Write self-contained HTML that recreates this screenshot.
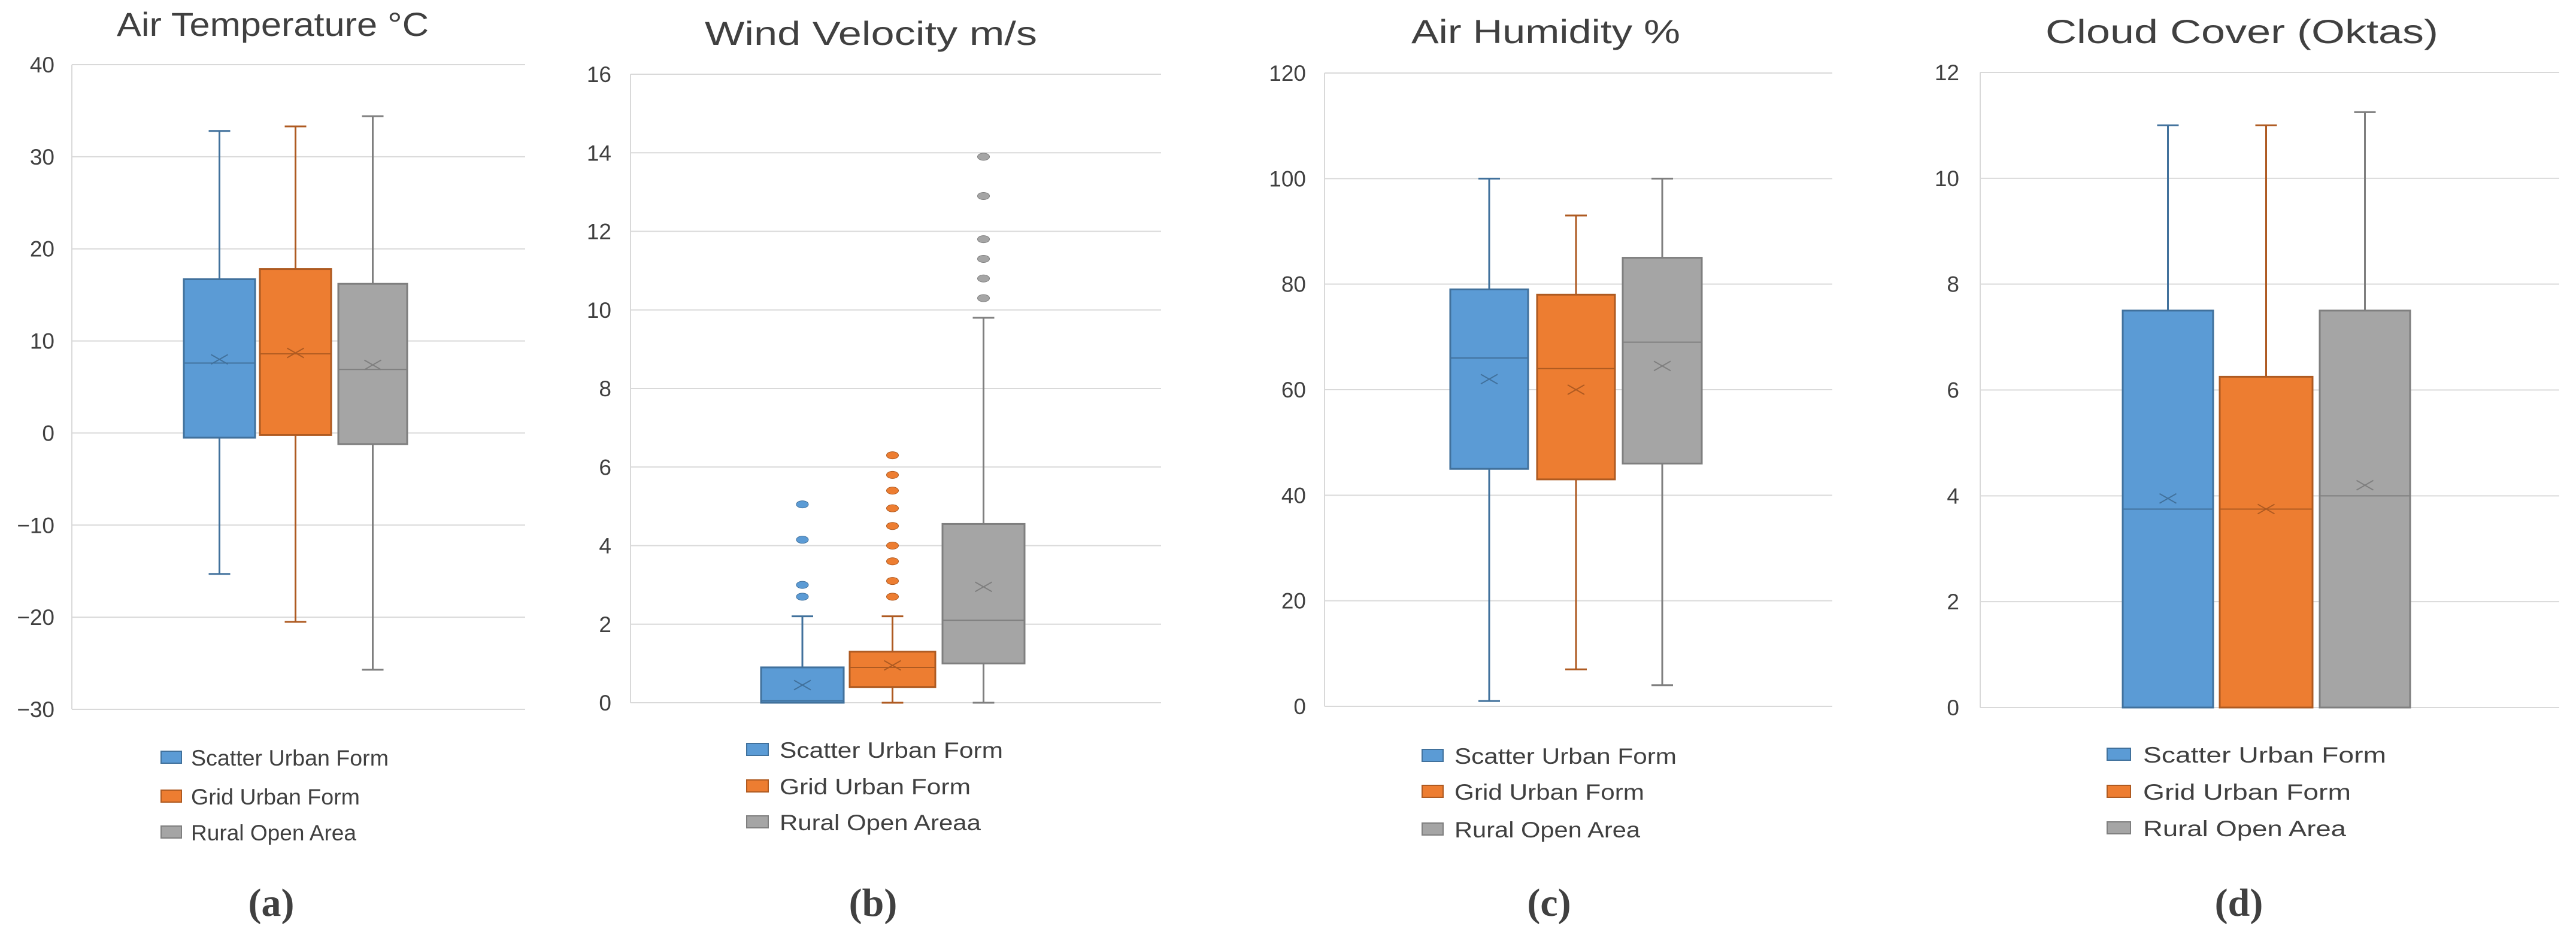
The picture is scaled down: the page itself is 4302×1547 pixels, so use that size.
<!DOCTYPE html>
<html><head><meta charset="utf-8"><style>
html,body{margin:0;padding:0;background:#fff;}
svg{display:block;}
text{font-family:"Liberation Sans",sans-serif;fill:#404040;}
</style></head><body>
<svg id="chart" width="4302" height="1547" viewBox="0 0 4302 1547" xmlns="http://www.w3.org/2000/svg"></svg>
<script>
const seriesNames=["Scatter Urban Form","Grid Urban Form","Rural Open Area"];
const seriesNamesB=["Scatter Urban Form","Grid Urban Form","Rural Open Areaa"];
// Air temperature
const tempMin=[-15.3,-20.5,-25.7];
const tempQ1=[-0.5,-0.2,-1.2];
const tempMed=[7.6,8.6,6.9];
const tempQ3=[16.7,17.8,16.2];
const tempMax=[32.8,33.3,34.4];
const tempMean=[8.0,8.7,7.4];
const tempTicks=["40","30","20","10","0","\u221210","\u221220","\u221230"];
// Wind velocity
const windMin=[0,0,0];
const windQ1=[0,0.4,1.0];
const windMed=[0.05,0.9,2.1];
const windQ3=[0.9,1.3,4.55];
const windMax=[2.2,2.2,9.8];
const windMean=[0.45,0.95,2.95];
const windOutBlue=[2.7,3.0,4.15,5.05];
const windOutOrange=[2.7,3.1,3.6,4.0,4.5,4.95,5.4,5.8,6.3];
const windOutGray=[10.3,10.8,11.3,11.8,12.9,13.9];
const windTicks=["16","14","12","10","8","6","4","2","0"];
// Humidity
const humMin=[1,7,4];
const humQ1=[45,43,46];
const humMed=[66,64,69];
const humQ3=[79,78,85];
const humMax=[100,93,100];
const humMean=[62,60,64.5];
const humTicks=["120","100","80","60","40","20","0"];
// Cloud cover
const cloudMin=[0,0,0];
const cloudQ1=[0,0,0];
const cloudMed=[3.75,3.75,4.0];
const cloudQ3=[7.5,6.25,7.5];
const cloudMax=[11,11,11.25];
const cloudMean=[3.95,3.75,4.2];
const cloudTicks=["12","10","8","6","4","2","0"];

const fills=["#5B9BD5","#ED7D31","#A5A5A5"];
const strokes=["#41719C","#AE5A21","#7F7F7F"];
const NS="http://www.w3.org/2000/svg";
const svg=document.getElementById("chart");
function mk(tag,attrs,parent){const e=document.createElementNS(NS,tag);for(const k in attrs)e.setAttribute(k,attrs[k]);(parent||svg).appendChild(e);return e;}

const panels=[
 {key:"air-temperature",title:"Air Temperature \u00B0C",tx:195,tw:521,ty:60,x0:120,x1:877,yT:108,yB:1185,vmin:-30,vmax:40,ticks:tempTicks,tickR:91,
  lefts:[307,434,565],widths:[119,119,115],mn:tempMin,q1:tempQ1,md:tempMed,q3:tempQ3,mx:tempMax,me:tempMean,outs:[[],[],[]],
  names:seriesNames,sx:269,sw:34,lx:319,rows:[1265,1330,1390],lw:[330,282,276],lab:"(a)",labX:453},
 {key:"wind-velocity",title:"Wind Velocity m/s",tx:1177,tw:555,ty:75,x0:1053,x1:1939,yT:124,yB:1174,vmin:0,vmax:16,ticks:windTicks,tickR:1021,
  lefts:[1271,1419,1574],widths:[138,143,137],mn:windMin,q1:windQ1,md:windMed,q3:windQ3,mx:windMax,me:windMean,outs:[windOutBlue,windOutOrange,windOutGray],
  names:seriesNamesB,sx:1247,sw:36,lx:1302,rows:[1252,1313,1373],lw:[373,319,336],lab:"(b)",labX:1458},
 {key:"air-humidity",title:"Air Humidity %",tx:2357,tw:449,ty:72,x0:2212,x1:3060,yT:122,yB:1180,vmin:0,vmax:120,ticks:humTicks,tickR:2181,
  lefts:[2422,2567,2710],widths:[130,130,132],mn:humMin,q1:humQ1,md:humMed,q3:humQ3,mx:humMax,me:humMean,outs:[[],[],[]],
  names:seriesNames,sx:2375,sw:35,lx:2429,rows:[1262,1322,1385],lw:[371,317,310],lab:"(c)",labX:2587},
 {key:"cloud-cover",title:"Cloud Cover (Oktas)",tx:3416,tw:656,ty:72,x0:3307,x1:4274,yT:121,yB:1182,vmin:0,vmax:12,ticks:cloudTicks,tickR:3272,
  lefts:[3545,3707,3874],widths:[151,155,151],mn:cloudMin,q1:cloudQ1,md:cloudMed,q3:cloudQ3,mx:cloudMax,me:cloudMean,outs:[[],[],[]],
  names:seriesNames,sx:3519,sw:39,lx:3579,rows:[1260,1322,1383],lw:[406,347,339],lab:"(d)",labX:3739}
];

panels.forEach(p=>{
 const g=mk("g",{});
 
 
 const y=v=>p.yB-(v-p.vmin)/(p.vmax-p.vmin)*(p.yB-p.yT);
 const t=mk("text",{x:p.tx,y:p.ty,"font-size":56,textLength:p.tw,lengthAdjust:"spacingAndGlyphs",fill:"#262626"},g);
 t.textContent=p.title;
 
 
 const n=p.ticks.length;
 p.ticks.forEach((lbl,i)=>{
  const yy=p.yT+i*(p.yB-p.yT)/(n-1);
  const gl=mk("line",{x1:p.x0,x2:p.x1,y1:yy,y2:yy,stroke:"#d9d9d9","stroke-width":2},g);
  
  
  const tl=mk("text",{x:p.tickR,y:yy+13,"font-size":37,"text-anchor":"end",fill:"#404040"},g);
  tl.textContent=lbl;
  
  
 });
 const ax=mk("line",{x1:p.x0,x2:p.x0,y1:p.yT,y2:p.yB,stroke:"#d9d9d9","stroke-width":2},g);
 
 
 for(let i=0;i<3;i++){
  const L=p.lefts[i],W=p.widths[i],cx=L+W/2,cw=18;
  const bg=mk("g",{},g);
  
  
  mk("line",{x1:cx,x2:cx,y1:y(p.mx[i]),y2:y(p.q3[i]),stroke:strokes[i],"stroke-width":3},bg);
  mk("line",{x1:cx,x2:cx,y1:y(p.q1[i]),y2:y(p.mn[i]),stroke:strokes[i],"stroke-width":3},bg);
  mk("line",{x1:cx-cw,x2:cx+cw,y1:y(p.mx[i]),y2:y(p.mx[i]),stroke:strokes[i],"stroke-width":3},bg);
  mk("line",{x1:cx-cw,x2:cx+cw,y1:y(p.mn[i]),y2:y(p.mn[i]),stroke:strokes[i],"stroke-width":3},bg);
  mk("rect",{x:L,y:y(p.q3[i]),width:W,height:y(p.q1[i])-y(p.q3[i]),fill:fills[i],stroke:strokes[i],"stroke-width":3},bg);
  mk("line",{x1:L,x2:L+W,y1:y(p.md[i]),y2:y(p.md[i]),stroke:strokes[i],"stroke-width":2},bg);
  const my=y(p.me[i]);
  mk("path",{d:`M${cx-14},${my-8}L${cx+14},${my+8}M${cx-14},${my+8}L${cx+14},${my-8}`,stroke:strokes[i],"stroke-width":2,fill:"none"},bg);
  p.outs[i].forEach(v=>{
   const o=mk("ellipse",{cx:cx,cy:y(v),rx:10,ry:6,fill:fills[i],stroke:strokes[i],"stroke-width":1},bg);
   
   
  });
 }
 p.names.forEach((nm,i)=>{
  const le=mk("g",{},g);
  
  
  mk("rect",{x:p.sx,y:p.rows[i]-10,width:p.sw,height:20,fill:fills[i],stroke:strokes[i],"stroke-width":2},le);
  const lt=mk("text",{x:p.lx,y:p.rows[i]+14,"font-size":37,textLength:p.lw[i],lengthAdjust:"spacingAndGlyphs",fill:"#404040"},le);
  lt.textContent=nm;
 });
 const lab=mk("text",{x:p.labX,y:1530,"font-size":66,"text-anchor":"middle",style:"font-family:'Liberation Serif',serif;font-weight:bold",fill:"#000"},g);
 lab.textContent=p.lab;
 
 
});
</script>
</body></html>
